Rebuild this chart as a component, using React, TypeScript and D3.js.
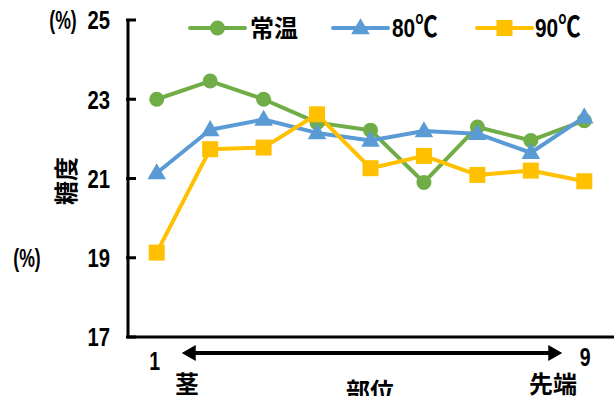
import { useMemo } from "react";
import * as d3 from "d3";

const positions = ["1", "2", "3", "4", "5", "6", "7", "8", "9"];
const roomTemp = [23.0, 23.46, 23.0, 22.41, 22.22, 20.9, 22.3, 21.96, 22.46];
const temp80 = [21.14, 22.23, 22.49, 22.15, 21.96, 22.2, 22.13, 21.65, 22.55];
const temp90 = [19.13, 21.74, 21.78, 22.62, 21.26, 21.57, 21.09, 21.2, 20.93];
const seriesNames = ["常温", "80", "90"];
const seriesColors = ["#70AD47", "#5B9BD5", "#FFC000"];
const yTicks = [17, 19, 21, 23, 25];

const FONT = "'Liberation Sans', Arial, sans-serif";
const CJK = "'Noto Sans CJK JP', sans-serif";

type Shape = "circle" | "triangle" | "square";
const shapes: Shape[] = ["circle", "triangle", "square"];

function Marker({ shape, x, y, color }: { shape: Shape; x: number; y: number; color: string }) {
  if (shape === "circle") return <circle cx={x} cy={y} r={7.5} fill={color} />;
  if (shape === "square") return <rect x={x - 8} y={y - 8} width={16} height={16} fill={color} />;
  const sym = d3.symbol(d3.symbolTriangle, 150)() ?? "";
  return <path d={sym} transform={`translate(${x},${y + 1})`} fill={color} />;
}

// narrow bold text, squeezed horizontally like the condensed font of the original
function NText({
  x,
  y,
  anchor = "start",
  size = 26,
  sx = 0.78,
  children,
}: {
  x: number;
  y: number;
  anchor?: "start" | "middle" | "end";
  size?: number;
  sx?: number;
  children: React.ReactNode;
}) {
  return (
    <text
      transform={`translate(${x},${y}) scale(${sx},1)`}
      dy="0.36em"
      textAnchor={anchor}
      fontFamily={FONT}
      fontWeight="bold"
      fontSize={size}
    >
      {children}
    </text>
  );
}

export default function App() {
  const width = 614;
  const height = 396;
  const axisX = 128;
  const axisY = 337;

  const x = d3.scalePoint<string>().domain(positions).range([130, 611]).padding(0.5);
  const y = d3.scaleLinear().domain([17, 25]).range([axisY, 20]);

  const series = [roomTemp, temp80, temp90];

  const paths = useMemo(() => {
    const line = d3
      .line<number>()
      .x((_, i) => x(positions[i]) ?? 0)
      .y((v) => y(v));
    return series.map((s) => line(s) ?? "");
  }, []);

  const legendItems = [
    { x0: 190, x1: 245, tx: 250 },
    { x0: 333, x1: 388, tx: 392 },
    { x0: 477, x1: 532, tx: 535 },
  ];
  const legendY = 28;

  const arrowY = 353;
  const arrowL = x("1")! + 25;
  const arrowR = x("9")! - 22;

  return (
    <svg
      width={width}
      height={height}
      style={{ position: "absolute", left: 0, top: 0, background: "#fff" }}
    >
      {/* axes */}
      <path
        d={`M${axisX},${y(25)}V${axisY}H${width}`}
        fill="none"
        stroke="#000"
        strokeWidth={3}
      />
      {yTicks.map((t) => (
        <g key={t}>
          <line x1={axisX - 2} x2={axisX + 8} y1={y(t)} y2={y(t)} stroke="#000" strokeWidth={3} />
          <NText x={110} y={y(t)} anchor="end" size={26}>
            {t}
          </NText>
        </g>
      ))}
      <NText x={63} y={y(25)} anchor="middle" size={26} sx={0.68}>
        (%)
      </NText>
      <NText x={27} y={y(19)} anchor="middle" size={26} sx={0.68}>
        (%)
      </NText>
      <text
        transform={`translate(66,181) rotate(-90)`}
        textAnchor="middle"
        dy="0.36em"
        fontFamily={CJK}
        fontWeight="bold"
        fontSize={24}
      >
        糖度
      </text>

      {/* series */}
      {paths.map((d, i) => (
        <path key={i} d={d} fill="none" stroke={seriesColors[i]} strokeWidth={4} strokeLinejoin="round" />
      ))}
      {series.map((s, i) =>
        s.map((v, j) => (
          <Marker key={`${i}-${j}`} shape={shapes[i]} x={x(positions[j]) ?? 0} y={y(v)} color={seriesColors[i]} />
        ))
      )}

      {/* legend */}
      {legendItems.map((l, i) => (
        <g key={i}>
          <line x1={l.x0} x2={l.x1} y1={legendY} y2={legendY} stroke={seriesColors[i]} strokeWidth={4} strokeLinecap="round" />
          <Marker shape={shapes[i]} x={(l.x0 + l.x1) / 2} y={legendY} color={seriesColors[i]} />
          {i === 0 ? (
            <text x={l.tx} y={legendY} dy="0.36em" fontFamily={CJK} fontWeight="bold" fontSize={24}>
              {seriesNames[i]}
            </text>
          ) : (
            <text
              transform={`translate(${l.tx},${legendY}) scale(0.8,1)`}
              dy="0.36em"
              fontFamily={FONT}
              fontWeight="bold"
              fontSize={26}
            >
              {seriesNames[i]}
              <tspan fontFamily={CJK} fontSize={28}>℃</tspan>
            </text>
          )}
        </g>
      ))}

      {/* x annotation */}
      <line x1={arrowL + 10} x2={arrowR - 10} y1={arrowY} y2={arrowY} stroke="#000" strokeWidth={4} />
      <path d={`M${arrowL},${arrowY}l14,-8v16z`} fill="#000" />
      <path d={`M${arrowR},${arrowY}l-14,-8v16z`} fill="#000" />
      <NText x={x("1")! - 2} y={361} anchor="middle" size={25}>
        1
      </NText>
      <NText x={x("9")! + 1} y={357} anchor="middle" size={25}>
        9
      </NText>
      <text x={187} y={384} dy="0.36em" textAnchor="middle" fontFamily={CJK} fontWeight="bold" fontSize={24}>
        茎
      </text>
      <text x={370} y={391} dy="0.36em" textAnchor="middle" fontFamily={CJK} fontWeight="bold" fontSize={24}>
        部位
      </text>
      <text x={553} y={384} dy="0.36em" textAnchor="middle" fontFamily={CJK} fontWeight="bold" fontSize={24}>
        先端
      </text>
    </svg>
  );
}
